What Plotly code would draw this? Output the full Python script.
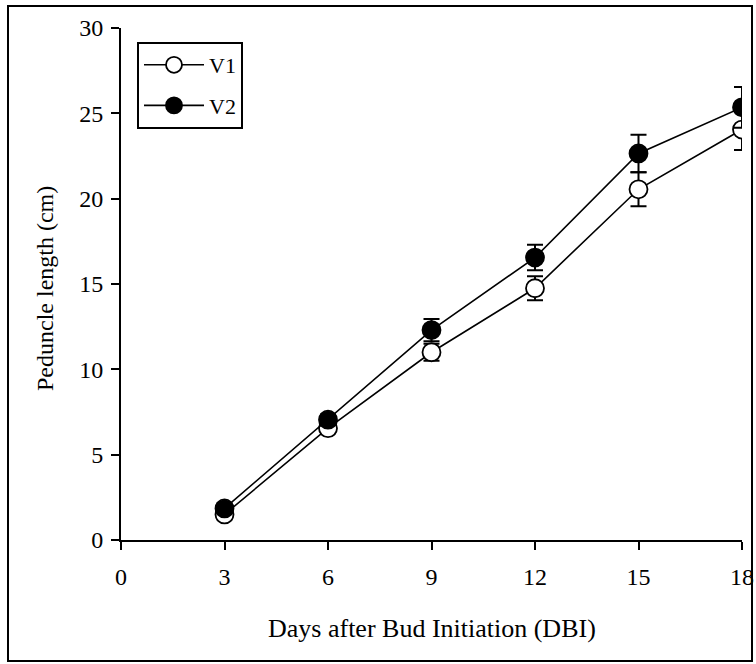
import plotly.graph_objects as go

days = [3, 6, 9, 12, 15, 18]
v1 = [1.5, 6.55, 11.0, 14.75, 20.55, 24.05]
v2 = [1.85, 7.05, 12.3, 16.55, 22.65, 25.35]
v1_err = [0.3, 0.3, 0.5, 0.7, 1.0, 1.2]
v2_err = [0.3, 0.3, 0.65, 0.75, 1.1, 1.2]
x_ticks = [0, 3, 6, 9, 12, 15, 18]
y_ticks = [0, 5, 10, 15, 20, 25, 30]
x_title = "Days after Bud Initiation (DBI)"
y_title = "Peduncle length (cm)"

FONT = "Liberation Serif, Times New Roman, serif"
L, R, T, B = 121, 14, 28, 124
W, H = 756, 664
PW, PH = W - L - R, H - T - B

def px_x(p):
    return (p - L) / PW

def px_y(p):
    return (H - B - p) / PH

fig = go.Figure()
fig.add_trace(go.Scatter(
    x=days, y=v1, name="V1", mode="lines+markers", legendgroup="a",
    line=dict(color="black", width=1.6),
    marker=dict(symbol="circle", size=18, color="white", line=dict(color="black", width=1.8)),
    error_y=dict(type="data", array=v1_err, visible=True, color="black", thickness=2, width=8),
))
fig.add_trace(go.Scatter(
    x=days, y=v2, name="V2", mode="lines+markers", legendgroup="b",
    line=dict(color="black", width=1.6),
    marker=dict(symbol="circle", size=18, color="black", line=dict(color="black", width=1.8)),
    error_y=dict(type="data", array=v2_err, visible=True, color="black", thickness=2, width=8),
))

fig.update_layout(
    width=W, height=H,
    margin=dict(l=L, r=R, t=T, b=B, autoexpand=False),
    paper_bgcolor="white", plot_bgcolor="white",
    font=dict(family=FONT, size=22, color="black"),
    showlegend=True,
    legend=dict(
        x=px_x(137), y=px_y(42), xanchor="left", yanchor="top",
        bgcolor="white", bordercolor="black", borderwidth=2,
        font=dict(family=FONT, size=22, color="black"),
        tracegroupgap=9, itemwidth=60,
    ),
    xaxis=dict(
        range=[0, 18], tickvals=x_ticks, showgrid=False, zeroline=False,
        showline=True, linecolor="black", linewidth=2, automargin=False,
        ticks="outside", ticklen=8, tickwidth=2, tickcolor="black",
        tickfont=dict(family=FONT, size=24), ticklabelstandoff=6,
    ),
    yaxis=dict(
        range=[0, 30], tickvals=y_ticks, showgrid=False, zeroline=False,
        showline=True, linecolor="black", linewidth=2, automargin=False,
        ticks="outside", ticklen=8, tickwidth=2, tickcolor="black",
        tickfont=dict(family=FONT, size=24), ticklabelstandoff=3,
    ),
    annotations=[
        dict(text=x_title, xref="paper", yref="paper", x=0.5, y=px_y(628),
             xanchor="center", yanchor="middle", showarrow=False,
             font=dict(family=FONT, size=26, color="black")),
        dict(text=y_title, xref="paper", yref="paper", x=px_x(45), y=px_y(289),
             xanchor="center", yanchor="middle", showarrow=False, textangle=-90,
             font=dict(family=FONT, size=24, color="black")),
    ],
    shapes=[dict(
        type="rect", xref="paper", yref="paper",
        x0=px_x(8), x1=px_x(752), y0=px_y(661), y1=px_y(6),
        line=dict(color="black", width=2), fillcolor="rgba(0,0,0,0)", layer="below",
    )],
)

fig.write_html("out.html", config={"displayModeBar": False},
               post_script="document.body.style.margin='0';")
